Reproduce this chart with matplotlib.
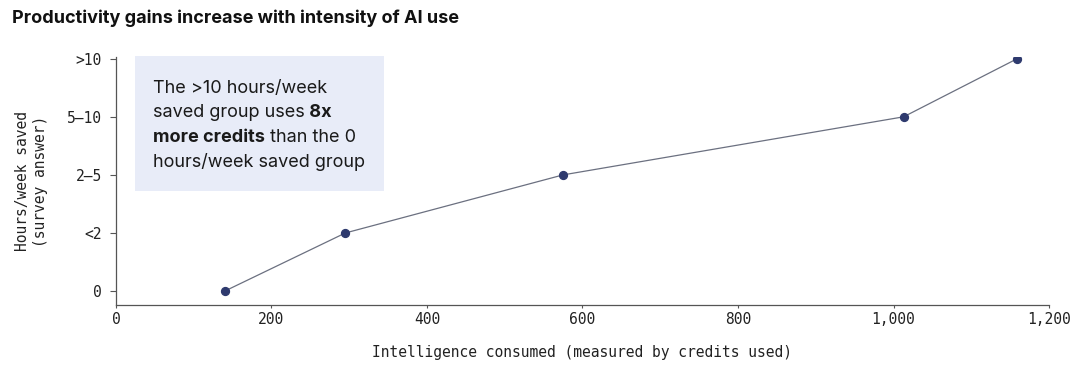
import matplotlib.pyplot as plt
from matplotlib.patches import Rectangle

# Data
credits = [140, 295, 575, 1013, 1159]
hours_levels = [0, 1, 2, 3, 4]
level_labels = ['0', '<2', '2\u20135', '5\u201310', '>10']
x_ticks = [0, 200, 400, 600, 800, 1000, 1200]

mono = 'DejaVu Sans Mono'
sans = 'Inter'

fig = plt.figure(figsize=(10.8, 3.75), dpi=100)
ax = fig.add_axes([0.1074, 0.1867, 0.8639, 0.6613])

ax.plot(credits, hours_levels, color='#6b7080', linewidth=0.9, zorder=3)
ax.scatter(credits, hours_levels, s=32, color='#2e3a6e', zorder=4)

ax.set_xlim(0, 1200)
ax.set_ylim(-0.24, 4.03)
ax.set_xticks(x_ticks)
ax.set_xticklabels([f'{v:,}' for v in x_ticks], fontfamily=mono, fontsize=10.5)
ax.set_yticks(hours_levels)
ax.set_yticklabels(level_labels, fontfamily=mono, fontsize=10.5)
ax.tick_params(axis='y', length=4, color='#555555', pad=6)
ax.tick_params(axis='x', length=2, color='#555555', pad=3)
ax.tick_params(which='both', labelcolor='#222222')

for side in ['top', 'right']:
    ax.spines[side].set_visible(False)
for side in ['left', 'bottom']:
    ax.spines[side].set_color('#555555')
    ax.spines[side].set_linewidth(0.9)

ax.set_xlabel('Intelligence consumed (measured by credits used)',
              fontfamily=mono, fontsize=10.5, labelpad=13, color='#222222')
ax.set_ylabel('Hours/week saved\n(survey answer)', fontfamily=mono,
              fontsize=10.5, labelpad=14, color='#222222')

fig.text(0.011, 0.952, 'Productivity gains increase with intensity of AI use',
         fontfamily=sans, fontweight='bold', fontsize=13, va='center',
         color='#111111')

# Callout box
ax.add_patch(Rectangle((25, 1.72), 320, 2.33, facecolor='#e8ecf8',
                       edgecolor='none', clip_on=False, zorder=1))

fs = 13
tx = 0.1415
lines_y = [0.765, 0.699, 0.634, 0.568]
kw = dict(fontfamily=sans, fontsize=fs, color='#1a1a1a', va='center',
          zorder=5)
fig.text(tx, lines_y[0], 'The >10 hours/week', **kw)
t2 = fig.text(tx, lines_y[1], 'saved group uses', **kw)
ax.annotate(' 8x', xy=(1, 0), xycoords=t2, va='bottom', ha='left',
            fontfamily=sans, fontsize=fs, fontweight='bold', color='#1a1a1a')
t3 = fig.text(tx, lines_y[2], 'more credits', fontweight='bold', **kw)
ax.annotate(' than the 0', xy=(1, 0), xycoords=t3, va='bottom', ha='left',
            fontfamily=sans, fontsize=fs, color='#1a1a1a')
fig.text(tx, lines_y[3], 'hours/week saved group', **kw)

fig.savefig('out.png', dpi=100)
